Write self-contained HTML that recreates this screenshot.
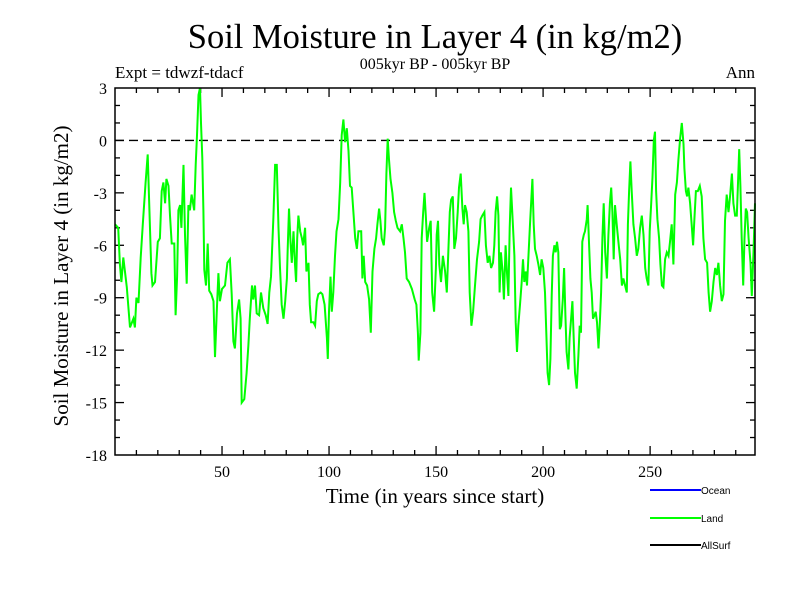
<!DOCTYPE html>
<html><head><meta charset="utf-8"><style>
body{margin:0;background:#fff}
svg text{font-family:"Liberation Serif",serif}
</style></head><body>
<svg id="chart" width="800" height="600" viewBox="0 0 800 600" xmlns="http://www.w3.org/2000/svg">
<rect width="800" height="600" fill="#fff"/>
<text x="435" y="48" font-size="34.5" text-anchor="middle">Soil Moisture in Layer 4 (in kg/m2)</text>
<text x="435" y="69" font-size="16" text-anchor="middle">005kyr BP - 005kyr BP</text>
<text x="115" y="78" font-size="17">Expt = tdwzf-tdacf</text>
<text x="755" y="78" font-size="17" text-anchor="end">Ann</text>
<text x="0" y="0" font-size="21" text-anchor="middle" transform="translate(68,276) rotate(-90)">Soil Moisture in Layer 4 (in kg/m2)</text>
<text x="435" y="503" font-size="21" text-anchor="middle">Time (in years since start)</text>
<g id="ticks"></g>
<line x1="115" x2="755" y1="140.4" y2="140.4" stroke="#000" stroke-width="1.3" stroke-dasharray="9,5" id="zeroline"/>
<g id="series"></g>
<rect x="115" y="88" width="640" height="367" fill="none" stroke="#000" stroke-width="1.5"/>
<g>
<line x1="650" x2="701" y1="490" y2="490" stroke="#0000ff" stroke-width="2"/>
<text x="701" y="494" font-size="10" style="font-family:'Liberation Sans',sans-serif">Ocean</text>
<line x1="650" x2="701" y1="518" y2="518" stroke="#00ff00" stroke-width="2"/>
<text x="701" y="522" font-size="10" style="font-family:'Liberation Sans',sans-serif">Land</text>
<line x1="650" x2="701" y1="545" y2="545" stroke="#000" stroke-width="2"/>
<text x="701" y="549" font-size="10" style="font-family:'Liberation Sans',sans-serif">AllSurf</text>
</g>
</svg>
<script>
const years=[0,1.5,2.3,3,3.9,5.5,7,8.6,9.3,10,11,12,13,14.3,15.3,16,17,17.5,18.7,20,21,21.8,22.6,23.4,24,25,25.7,26.5,27.7,28.3,29,29.6,30.4,31,32,32.7,33.5,34.3,35,35.8,37,37.7,38.3,39,39.7,40.2,40.8,41.3,41.7,42.5,43.3,44,45,46,46.7,47.5,48.3,49,50,51.4,52.5,53.7,54.5,55.3,56,57,58,58.7,59.2,60.4,61.5,62.3,63,64,64.6,65.4,66.2,67.3,68.2,69.3,70.4,71.3,72.1,72.9,74,74.8,75.6,76.4,77.1,77.9,78.7,79.5,80.3,80.7,81.3,82,82.6,83.4,84.1,84.6,85.1,85.7,86.5,87.3,87.9,88.8,89.4,90.4,91,91.6,92.7,93.5,94.3,95,96.1,96.9,97.9,99,99.4,100,100.7,101.3,102,102.8,103.5,104.4,105.2,105.9,106.7,107.5,108.3,109.1,109.8,110.6,111.4,112.2,113,113.7,115,115.6,116.2,116.9,117.8,118.7,119.5,120.3,121.2,122,122.6,123.4,124,124.6,125.6,126.2,126.8,127.4,128,128.7,129.6,130.4,131.2,132,133.2,134,134.8,135.5,136.3,137.4,138.7,140,140.8,141.5,141.9,142.7,143.3,144,144.6,145.2,145.8,146.8,147.5,148.2,149.1,149.9,150.3,150.9,151.5,152.3,153.2,154.2,155,155.7,156.4,157,157.8,158.5,159.3,160.1,160.7,161.5,162.3,162.9,163.5,164.3,165.1,165.7,166.5,167.3,168.2,169.1,170.1,170.8,171.6,172.6,173.3,174.1,174.9,175.7,176.6,177.2,177.8,178.5,179.1,179.7,180.3,181.1,181.7,182.5,183.1,183.8,184.4,185,185.8,186.6,187.2,187.8,188.4,189.2,190,190.6,191.2,191.9,192.5,193.1,193.9,194.5,195,195.6,196.2,197,197.8,198.6,199.3,200.1,200.9,201.5,202.1,202.8,203.4,204,204.6,205.3,205.9,206.5,207.1,207.8,208.4,209.2,209.8,210.4,211,211.8,212.4,213.1,213.7,214.3,214.9,215.7,216.5,217.1,217.7,218.3,219,219.6,220.4,220.8,221.5,222.1,222.7,223.3,224,224.6,225.2,225.9,226.6,227.1,227.7,228.3,229,229.8,230.5,231.2,231.8,232.4,233,233.6,234.4,235.2,236,236.8,237.5,238.3,239.1,239.6,240.2,240.8,241.4,242.2,243,243.8,244.5,245.3,246.1,246.9,247.7,248.4,249.2,249.8,250.5,251.1,251.7,252.3,252.8,253.4,254.2,254.8,255.5,256.2,257,257.8,258.6,259.3,260.1,260.9,261.7,262.5,263.2,264,264.8,265.6,266,266.7,267.3,267.9,268.7,269.5,270.1,270.7,271.4,272.3,273.2,274.1,274.9,275.7,276.6,277.3,278,278.8,279.6,280.4,281.2,281.9,282.7,283.5,284.3,285,285.8,286.6,287.4,288.2,288.9,289.7,290.5,291,291.6,292.2,292.8,293.5,294.1,294.7,295.3,296,296.9,297.5,298.3,299];
const landValues=[-4.8,-5.0,-7.1,-8.1,-6.7,-8.4,-10.7,-10.2,-10.7,-9,-9.3,-6.7,-4.8,-2.4,-0.8,-3.6,-7.6,-8.3,-8.1,-5.8,-5.6,-2.9,-2.4,-3.6,-2.2,-2.6,-4.3,-5.9,-5.9,-10,-7.8,-4.0,-3.7,-5,-1.4,-5.4,-8.2,-3.7,-4.0,-3.1,-4.0,-1.4,0.3,2.6,3,1,-1,-4,-7.4,-8.3,-5.9,-8.6,-8.8,-9.2,-12.4,-9.9,-7.6,-9.2,-8.5,-8.3,-7.0,-6.8,-8.8,-11.5,-11.9,-9.9,-9.1,-10.2,-15,-14.8,-13.3,-11.7,-10.2,-8.3,-9.1,-8.3,-9.9,-10,-8.7,-9.6,-10,-10.5,-8.7,-7.8,-4.4,-1.4,-1.4,-5.0,-7.3,-9.4,-10.2,-9.2,-7.9,-6.2,-3.9,-5.8,-7.0,-5.2,-7.1,-8.1,-5.6,-4.3,-5.2,-5.6,-6.0,-5.0,-7.5,-7.0,-9.4,-10.4,-10.4,-10.6,-9.2,-8.8,-8.7,-8.8,-9.4,-11.3,-12.5,-9.8,-7.8,-9.8,-8.7,-6.6,-5.2,-4.5,-2.4,0.3,1.2,-0.1,0.7,-0.6,-2.6,-2.7,-4.1,-5.6,-6.2,-5.2,-5.2,-7.9,-6.6,-8.1,-8.3,-9.1,-11,-7.5,-6.2,-5.6,-4.8,-3.9,-4.6,-5.6,-6.0,-5.0,-1.9,0.1,-1.1,-2.2,-3.0,-4.1,-4.6,-5.0,-5.2,-4.8,-5.6,-6.4,-7.9,-8.1,-8.5,-9.1,-9.4,-11,-12.6,-11,-5.6,-4.1,-3.0,-4.3,-5.8,-5.0,-4.6,-8.7,-9.8,-7.3,-5.4,-4.6,-7.1,-8.1,-6.6,-7.5,-8.7,-6.4,-4.1,-3.4,-3.2,-6.2,-5.6,-4.1,-2.7,-1.9,-3.9,-4.8,-3.7,-4.1,-5.2,-8.7,-10.6,-9.8,-8.3,-6.8,-5.8,-4.5,-4.3,-4.1,-6.0,-7.0,-6.6,-7.3,-7.0,-6.0,-4.1,-3.2,-4.3,-8.7,-6.4,-7.5,-9.1,-6.0,-7.5,-8.9,-5.0,-2.7,-4.6,-6.6,-10.4,-12.1,-10.6,-9.4,-8.1,-6.8,-8.1,-7.5,-8.3,-6.8,-4.8,-3.4,-2.2,-4.8,-6.2,-6.6,-7.1,-7.7,-6.8,-7.3,-8.7,-11,-13.3,-14,-12.5,-8.9,-6.6,-6.0,-6.4,-5.8,-6.4,-10.8,-10.6,-9.1,-7.3,-10,-12.1,-13.1,-11.3,-10.2,-9.2,-11.3,-13.3,-14.2,-12.3,-10.6,-11,-5.8,-5.4,-5.2,-4.5,-3.7,-6.0,-7.9,-8.7,-10.2,-10,-9.8,-10.4,-11.9,-10.2,-8.7,-5.6,-3.6,-6.4,-7.9,-5.4,-3.6,-2.7,-4.1,-6.8,-3.7,-4.8,-5.8,-6.8,-8.3,-7.9,-8.3,-8.7,-4.8,-2.9,-1.2,-2.9,-4.8,-5.6,-6.6,-6.2,-5.0,-4.3,-5.4,-7.3,-7.9,-8.3,-5.2,-3.6,-2.1,0.0,0.5,-2.9,-4.5,-5.6,-7.1,-8.3,-8.4,-6.8,-6.4,-6.6,-5.8,-4.8,-7.1,-3.1,-2.4,-1.1,0.1,1.0,-0.2,-1.6,-2.9,-3.2,-2.7,-3.6,-5.0,-6.0,-4.5,-2.9,-2.9,-2.6,-3.2,-5.6,-6.8,-7.0,-8.7,-9.8,-9.2,-8.1,-7.3,-7.7,-7.0,-8.3,-9.2,-8.8,-4.6,-3.1,-4.1,-3.1,-1.9,-3.6,-4.3,-4.3,-2.6,-0.5,-2.6,-5.6,-8.3,-5.6,-3.9,-4.1,-5.6,-7.0,-8.9,-6.4,-3.6];
const yTicks=[3,0,-3,-6,-9,-12,-15,-18];
const xTicks=[50,100,150,200,250];
const X0=115,X1=755,Y0=88,Y1=455,XMIN=0,XMAX=299,YMIN=-18,YMAX=3;
const sx=v=>X0+(v-XMIN)/(XMAX-XMIN)*(X1-X0);
const sy=v=>Y1-(v-YMIN)/(YMAX-YMIN)*(Y1-Y0);
const NS='http://www.w3.org/2000/svg';
const tg=document.getElementById('ticks');
function mk(tag,attrs,parent){const e=document.createElementNS(NS,tag);for(const k in attrs)e.setAttribute(k,attrs[k]);parent.appendChild(e);return e;}
document.getElementById('zeroline').setAttribute('y1',sy(0));
document.getElementById('zeroline').setAttribute('y2',sy(0));
for(let v=10;v<XMAX;v+=10){
  const major=v%50===0,L=major?9:5,x=sx(v);
  const t1=mk('line',{x1:x,x2:x,y1:Y1,y2:Y1-L,stroke:'#000','stroke-width':1.3},tg);
  
  
  const t2=mk('line',{x1:x,x2:x,y1:Y0,y2:Y0+L,stroke:'#000','stroke-width':1.3},tg);
  
  
}
xTicks.forEach(v=>{
  const t=mk('text',{x:sx(v),y:Y1+22,'font-size':16,'text-anchor':'middle'},tg);
  t.textContent=v;
  
  
});
for(let v=YMIN+1;v<YMAX;v+=1){
  const major=v%3===0,L=major?9:5,y=sy(v);
  const t1=mk('line',{x1:X0,x2:X0+L,y1:y,y2:y,stroke:'#000','stroke-width':1.3},tg);
  
  
  const t2=mk('line',{x1:X1,x2:X1-L,y1:y,y2:y,stroke:'#000','stroke-width':1.3},tg);
  
  
}
yTicks.forEach(v=>{
  const t=mk('text',{x:X0-8,y:sy(v)+6,'font-size':16,'text-anchor':'end'},tg);
  t.textContent=v;
  
  
});
const pts=years.map((yr,i)=>sx(yr).toFixed(1)+','+sy(landValues[i]).toFixed(1)).join(' ');
const line=mk('polyline',{points:pts,fill:'none',stroke:'#00ff00','stroke-width':2,'stroke-linejoin':'miter'},document.getElementById('series'));


</script>
</body></html>
